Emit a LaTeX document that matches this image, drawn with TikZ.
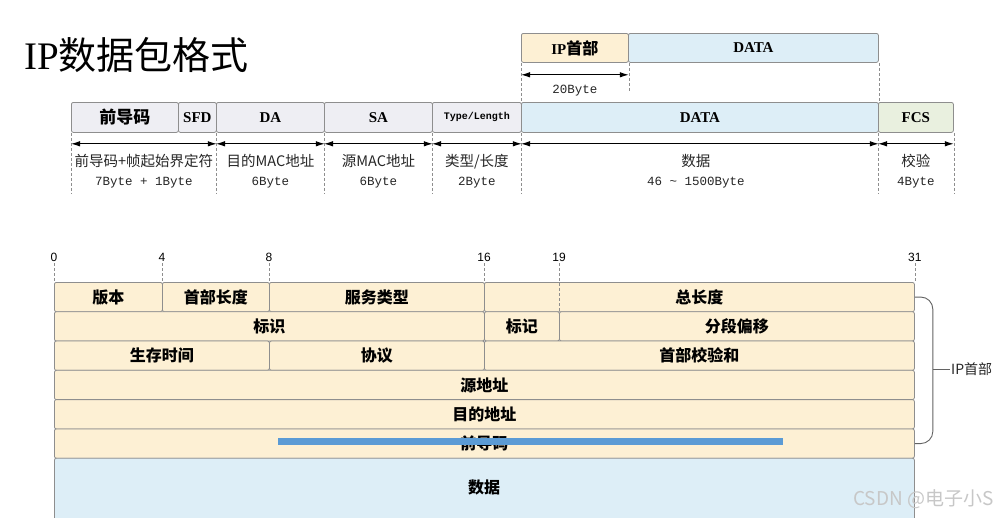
\documentclass[tikz,border=0pt]{standalone}
\usepackage{fontspec}
\setmainfont{Liberation Serif}
\setsansfont{Liberation Sans}
\setmonofont{Liberation Mono}
\newfontfamily\cjk{Noto Sans CJK SC}
\usetikzlibrary{arrows.meta,calc}
\definecolor{edgegray}{HTML}{8E8E8E}
\definecolor{framegray}{HTML}{EEEEF3}
\definecolor{datablue}{HTML}{DDEEF7}
\definecolor{fcsgreen}{HTML}{E9F0DF}
\definecolor{hdrorange}{HTML}{FDF0D4}
\definecolor{barblue}{HTML}{5B9BD5}
\tikzset{fld/.style={draw=edgegray, line width=0.8pt, rounded corners=2pt, inner sep=0pt,
    anchor=north west, font=\bfseries\fontsize{15}{15}\selectfont},
  row/.style={fld, fill=hdrorange, minimum height=29.3pt, font=\cjk\bfseries\fontsize{16}{16}\selectfont},
  dim/.style={{Latex[length=9pt,width=5.5pt]}-{Latex[length=9pt,width=5.5pt]}, line width=1pt},
  guide/.style={densely dashed, edgegray, line width=0.5pt},
  note/.style={font=\cjk\fontsize{14.5}{19}\selectfont, align=center, text=black!85},
  sz/.style={font=\ttfamily\fontsize{12.5}{19}\selectfont},
  bitnum/.style={font=\sffamily\fontsize{12}{12}\selectfont, inner sep=1pt}}

\begin{document}
\begin{tikzpicture}[x=1pt, y=-1pt]
  \useasboundingbox[fill=white] (0,0) rectangle (1001,517);
  \node[anchor=west, inner sep=0pt, font=\fontsize{39}{39}\selectfont] (title) at (24,55)
    {IP{\cjk\fontsize{38}{38}\selectfont 数据包格式}};

  % ethernet frame
  \node[fld, fill=framegray, minimum width=107pt, minimum height=30pt] (pre) at (71,102) {{\cjk\fontsize{17}{17}\selectfont 前导码}};
  \node[fld, fill=framegray, minimum width=38pt, minimum height=30pt] (sfd) at (178,102) {SFD};
  \node[fld, fill=framegray, minimum width=108pt, minimum height=30pt] (da) at (216,102) {DA};
  \node[fld, fill=framegray, minimum width=108pt, minimum height=30pt] (sa) at (324,102) {SA};
  \node[fld, fill=framegray, minimum width=89pt, minimum height=30pt,
    font=\ttfamily\bfseries\fontsize{10}{10}\selectfont] (tl) at (432,102) {Type/Length};
  \node[fld, fill=datablue, minimum width=357pt, minimum height=30pt] (data) at (521,102) {DATA};
  \node[fld, fill=fcsgreen, minimum width=75pt, minimum height=30pt] (fcs) at (878,102) {FCS};

  % ip packet inside the data field
  \node[fld, fill=hdrorange, minimum width=107pt, minimum height=29pt] (iph) at (521,33)
    {IP{\cjk\fontsize{16}{16}\selectfont 首部}};
  \node[fld, fill=datablue, minimum width=250pt, minimum height=29pt] (ipdata) at (628,33) {DATA};
  \draw[guide] (iph.south west) -- (data.north west);
  \draw[guide] (iph.south east) -- ++(0,28);
  \draw[guide] (ipdata.south east) -- (data.north east);
  \draw[dim] ([yshift=-12pt]iph.south west) -- ([yshift=-12pt]iph.south east);
  \node[sz, text=black!85] (ipsz) at ($(iph.south)+(0,28)$) {20Byte};

  \foreach \n/\a in {pre/south west, da/south west, sa/south west, tl/south west,
    data/south west, fcs/south west, fcs/south east}
    \draw[guide] (\n.\a) -- ++(0,61);
  \draw[dim] ([yshift=-11pt]pre.south west) -- ([yshift=-11pt]sfd.south east);
  \foreach \n in {da, sa, tl, data, fcs}
    \draw[dim] ([yshift=-11pt]\n.south west) -- ([yshift=-11pt]\n.south east);

  % sizes
  \node[note] (szpre) at ($(pre.south west)!0.5!(sfd.south east)+(0,38)$)
    {前导码+帧起始界定符\\{\ttfamily\fontsize{12.5}{19}\selectfont 7Byte + 1Byte}};
  \node[note] (szda) at ($(da.south)+(0,38)$) {目的MAC地址\\{\ttfamily\fontsize{12.5}{19}\selectfont 6Byte}};
  \node[note] (szsa) at ($(sa.south)+(0,38)$) {源MAC地址\\{\ttfamily\fontsize{12.5}{19}\selectfont 6Byte}};
  \node[note] (sztl) at ($(tl.south)+(0,38)$) {类型/长度\\{\ttfamily\fontsize{12.5}{19}\selectfont 2Byte}};
  \node[note] (szdata) at ($(data.south)+(-4,38)$) {数据\\{\ttfamily\fontsize{12.5}{19}\selectfont 46 \textasciitilde{} 1500Byte}};
  \node[note] (szfcs) at ($(fcs.south)+(0,38)$) {校验\\{\ttfamily\fontsize{12.5}{19}\selectfont 4Byte}};

  % ip header rows
  \node[row, minimum width=108pt] (ver) at (54,282) {版本};
  \node[row, minimum width=107pt] (ihl) at (162,282) {首部长度};
  \node[row, minimum width=215pt] (tos) at (269,282) {服务类型};
  \node[row, minimum width=430pt] (tlen) at (484,282) {总长度};
  \node[row, minimum width=430pt] (ident) at (54,311.3) {标识};
  \node[row, minimum width=75pt] (flags) at (484,311.3) {标记};
  \node[row, minimum width=355pt] (frag) at (559,311.3) {分段偏移};
  \node[row, minimum width=215pt] (ttl) at (54,340.6) {生存时间};
  \node[row, minimum width=215pt] (proto) at (269,340.6) {协议};
  \node[row, minimum width=430pt] (csum) at (484,340.6) {首部校验和};
  \node[row, minimum width=860pt] (src) at (54,369.9) {源地址};
  \node[row, minimum width=860pt] (dst) at (54,399.2) {目的地址};
  \node[row, minimum width=860pt] (opt) at (54,428.5) {前导码};
  \node[row, fill=datablue, minimum width=860pt, minimum height=64pt] (payload) at (54,457.8) {};
  \node[font=\cjk\bfseries\fontsize{16}{16}\selectfont] (paytxt) at (484,487) {数据};
  \fill[barblue] (278,437.5) rectangle (783,445);

  % bit positions
  \foreach \b/\t in {0/ver.north west, 4/ihl.north west, 8/tos.north west,
    16/tlen.north west, 19/frag.north west, 31/tlen.north east} {
    \node[bitnum, anchor=south] (n\b) at (\t |- 0,263) {\b};
    \draw[guide] (n\b.south) -- (\t);
  }

  % header brace
  \node[anchor=west, inner sep=1pt, font=\cjk\fontsize{14}{14}\selectfont, text=black!85] (hdrlab) at (950,369) {IP首部};
  \coordinate (bk) at ($(tlen.east)+(18,0)$);
  \draw[edgegray!70!black, line width=0.9pt, rounded corners=12pt] (tlen.east) -- (bk) -- (bk |- opt.east) -- (opt.east);
  \draw[edgegray!70!black, line width=0.9pt] (bk |- hdrlab.west) -- (hdrlab.west);

  \node[anchor=west, inner sep=0pt, font=\cjk\fontsize{19}{19}\selectfont, text=black!22] (mark) at (853,499) {CSDN @电子小S};
\end{tikzpicture}
\end{document}
